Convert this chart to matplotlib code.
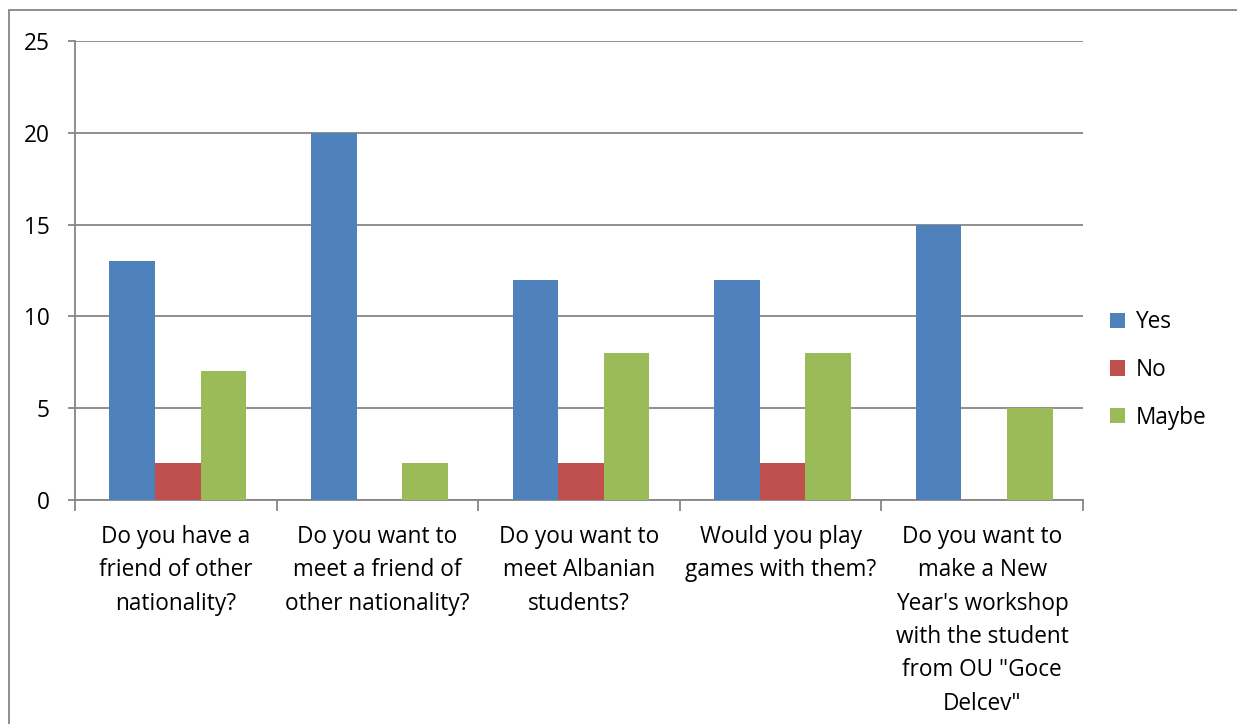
import matplotlib
matplotlib.use("Agg")
import matplotlib.pyplot as plt
import numpy as np
from matplotlib.patches import Rectangle

categories = [
    "Do you have a\nfriend of other\nnationality?",
    "Do you want to\nmeet a friend of\nother nationality?",
    "Do you want to\nmeet Albanian\nstudents?",
    "Would you play\ngames with them?",
    "Do you want to\nmake a New\nYear's workshop\nwith the student\nfrom OU \"Goce\nDelcev\"",
]
series_names = ["Yes", "No", "Maybe"]
yes = [13, 20, 12, 12, 15]
no = [2, 0, 2, 2, 0]
maybe = [7, 2, 8, 8, 5]
colors = ["#4F81BD", "#C0504D", "#9BBB59"]
yticks = [0, 5, 10, 15, 20, 25]

plt.rcParams['font.family'] = ['Open Sans', 'DejaVu Sans']

W, H = 1237, 724
fig = plt.figure(figsize=(W / 100, H / 100), dpi=100)
ax = fig.add_axes([75 / W, 1 - 500 / H, (1083 - 75) / W, (500 - 41) / H])

n = len(categories)
x = np.arange(n)
bw = 0.226
for i, (vals, c, name) in enumerate(zip([yes, no, maybe], colors, series_names)):
    ax.bar(x + 0.01 + (i - 1) * bw, vals, width=bw, color=c, label=name, zorder=3)

FS = 16.3
ax.set_xlim(-0.5, n - 0.5)
ax.set_ylim(0, 25)
ax.set_yticks(yticks)
ax.set_yticklabels([str(t) for t in yticks], fontsize=FS)
ax.yaxis.grid(True, color="#868686", linewidth=1.3, zorder=0)
ax.set_axisbelow(True)

ax.set_xticks(x)
ax.set_xticklabels(categories, fontsize=FS, linespacing=1.52, va="top")
ax.tick_params(axis="x", length=0, pad=18)
ax.set_xticks(np.arange(n + 1) - 0.5, minor=True)
ax.tick_params(axis="x", which="minor", length=8, width=1.3, color="#868686")
ax.tick_params(axis="y", length=5, width=1.3, color="#868686", pad=13)

for s in ["top", "right"]:
    ax.spines[s].set_visible(False)
for s in ["left", "bottom"]:
    ax.spines[s].set_color("#868686")
    ax.spines[s].set_linewidth(1.3)

handles, labels = ax.get_legend_handles_labels()
leg = fig.legend(handles, labels, loc="center left",
                 bbox_to_anchor=(1090 / W, 1 - 370 / H), frameon=False,
                 fontsize=FS, handlelength=0.65, handleheight=0.65,
                 handletextpad=0.45, labelspacing=1.05)

# outer chart border
fig.patches.append(Rectangle((9 / W, -0.01), 1.1, 1 - 10 / H + 0.01,
                             transform=fig.transFigure, fill=False,
                             edgecolor="#868686", linewidth=1.3))

fig.savefig("out.png", dpi=100)
